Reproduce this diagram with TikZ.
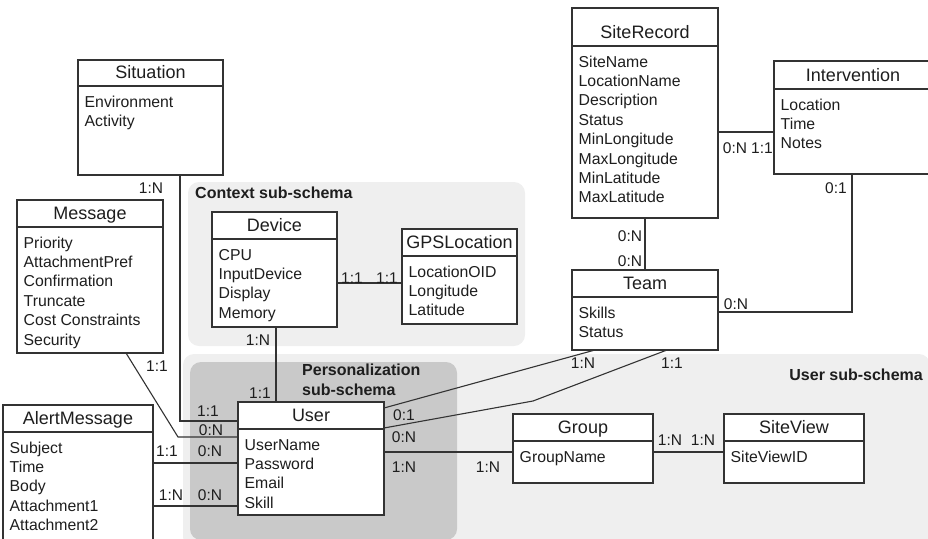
\documentclass[tikz,border=0pt]{standalone}
\usepackage{fontspec}
\setmainfont{Liberation Sans}
\definecolor{linec}{HTML}{333333}
\definecolor{txtc}{HTML}{1E1E1E}
\definecolor{lightreg}{HTML}{EFEFEF}
\definecolor{darkreg}{HTML}{C9C9C9}
\tikzset{
  ebox/.style={draw=linec, line width=1.1pt, fill=white, rectangle, inner sep=0pt, outer sep=0pt},
  eline/.style={draw=linec, line width=1.1pt},
  etitle/.style={font=\fontsize{18}{21}\selectfont, text=txtc, inner sep=0pt, anchor=base},
  eattr/.style={font=\fontsize{15.8}{19}\selectfont, text=txtc, inner sep=0pt, anchor=base west},
  card/.style={font=\fontsize{15.5}{18}\selectfont, text=txtc, inner sep=0pt},
  conn/.style={draw=linec, line width=1.1pt},
  region/.style={rounded corners=11pt, draw=none},
  rlabel/.style={font=\bfseries\fontsize{16}{20}\selectfont, text=txtc, inner sep=0pt, anchor=base west},
}
% entity box: name, x1, y1, x2, y2, header line y, title, attribute list
\newcommand\entity[8]{%
  \node[ebox, minimum width={#4-#2}, minimum height={#5-#3}] (#1) at ({(#2+#4)/2},{(#3+#5)/2}) {};
  \draw[eline] (#1.west |- 0,#6) -- (#1.east |- 0,#6);
  \node[etitle] (#1-title) at ({(#2+#4)/2},#6-7.5) {#7};
  \foreach \a [count=\i from 0] in {#8}
    \node[eattr] (#1-\i) at (#2+6.5,{#6+21+19.4*\i}) {\a};
}
\begin{document}
\begin{tikzpicture}[x=1pt,y=-1pt]
\useasboundingbox (0,0) rectangle (928,538);

% sub-schema regions
\fill[region, lightreg] (188,182) rectangle (525,346);
\fill[region, lightreg] (183,354) rectangle (930,548);
\fill[region, darkreg] (190,362) rectangle (457,540);
\node[rlabel] (ctxlabel) at (195,198) {Context sub-schema};
\node[rlabel] (perlabel1) at (302,375) {Personalization};
\node[rlabel] (perlabel2) at (302,395) {sub-schema};
\node[rlabel, anchor=base east] (usrlabel) at (923,380) {User sub-schema};

% entities
\entity{situation}{78}{60}{223}{175}{86}{Situation}{Environment,Activity}
\entity{message}{17}{200}{163}{353}{227}{Message}{Priority,AttachmentPref,Confirmation,Truncate,Cost Constraints,Security}
\entity{device}{212}{212}{337}{327}{239}{Device}{CPU,InputDevice,Display,Memory}
\entity{gps}{402}{229}{517}{324}{256}{GPSLocation}{LocationOID,Longitude,Latitude}
\entity{siterec}{572}{8}{718}{218}{46}{SiteRecord}{SiteName,LocationName,Description,Status,MinLongitude,MaxLongitude,MinLatitude,MaxLatitude}
\entity{interv}{774}{61}{932}{174}{89}{Intervention}{Location,Time,Notes}
\entity{team}{572}{270}{718}{350}{297}{Team}{Skills,Status}
\entity{user}{238}{402}{384}{515}{429}{User}{UserName,Password,Email,Skill}
\entity{alert}{3}{405}{153}{541}{432}{AlertMessage}{Subject,Time,Body,Attachment1,Attachment2}
\entity{group}{513}{414}{653}{483}{441}{Group}{GroupName}
\entity{siteview}{724}{414}{864}{483}{441}{SiteView}{SiteViewID}

% relationships
\draw[conn] (situation.south -| 180,0) |- (user.west |- 0,421);
\draw[conn] (message.south -| 126,0) -- (178,437) -- (user.west |- 0,437);
\draw[conn] (alert.east |- 0,463) -- (user.west |- 0,463);
\draw[conn] (alert.east |- 0,506) -- (user.west |- 0,506);
\draw[conn] (device.south -| 276,0) -- (user.north -| 276,0);
\draw[conn] (device.east |- 0,283) -- (gps.west |- 0,283);
\draw[conn] (siterec.east |- 0,132) -- (interv.west |- 0,132);
\draw[conn] (siterec.south -| 645,0) -- (team.north -| 645,0);
\draw[conn] (interv.south -| 852,0) |- (team.east |- 0,312);
\draw[conn] (user.east |- 0,408) -- (team.south -| 595,0);
\draw[conn] (user.east |- 0,428) -- (533,401) -- (team.south -| 667,0);
\draw[conn] (user.east |- 0,452) -- (group.west |- 0,452);
\draw[conn] (group.east |- 0,452) -- (siteview.west |- 0,452);

% cardinalities
\node[card] (c1) at (151,188) {1:N};
\node[card] (c2) at (208,411) {1:1};
\node[card] (c3) at (157,366) {1:1};
\node[card] (c4) at (211,430) {0:N};
\node[card] (c5) at (167,451) {1:1};
\node[card] (c6) at (210,451) {0:N};
\node[card] (c7) at (171,495) {1:N};
\node[card] (c8) at (210,495) {0:N};
\node[card] (c9) at (258,340) {1:N};
\node[card] (c10) at (260,393) {1:1};
\node[card] (c11) at (352,278) {1:1};
\node[card] (c12) at (387,278) {1:1};
\node[card] (c13) at (735,148) {0:N};
\node[card] (c14) at (762,148) {1:1};
\node[card] (c15) at (630,236) {0:N};
\node[card] (c16) at (630,261) {0:N};
\node[card] (c17) at (836,188) {0:1};
\node[card] (c18) at (736,304) {0:N};
\node[card] (c19) at (404,415) {0:1};
\node[card] (c20) at (404,437) {0:N};
\node[card] (c21) at (404,467) {1:N};
\node[card] (c22) at (583,363) {1:N};
\node[card] (c23) at (672,363) {1:1};
\node[card] (c24) at (488,467) {1:N};
\node[card] (c25) at (670,440) {1:N};
\node[card] (c26) at (703,440) {1:N};
\end{tikzpicture}
\end{document}
